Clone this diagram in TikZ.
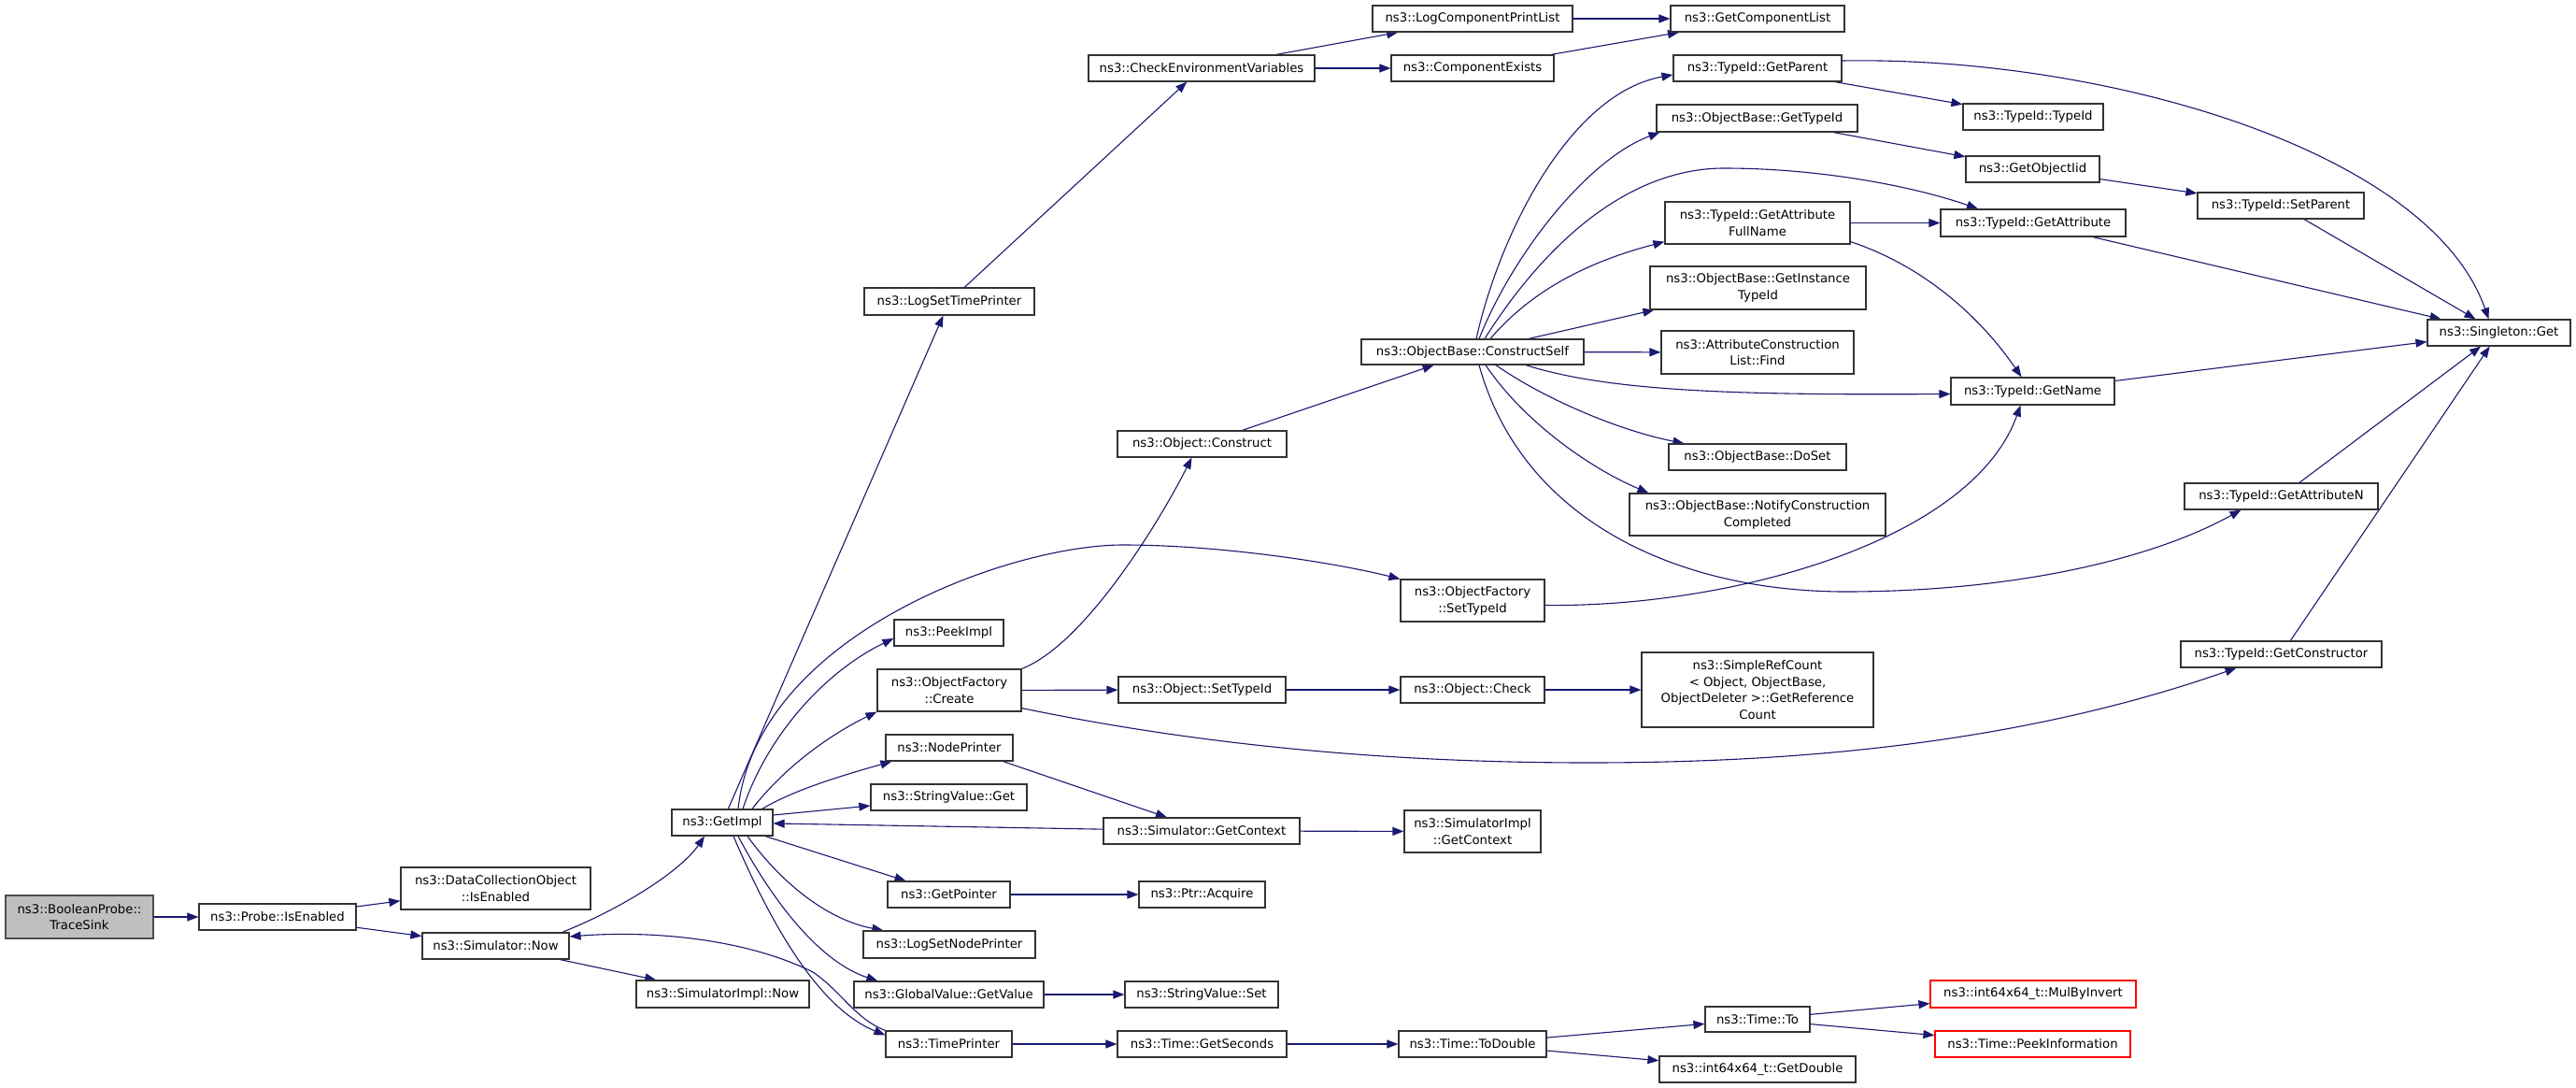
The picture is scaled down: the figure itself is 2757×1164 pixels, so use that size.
\documentclass[tikz,border=0pt]{standalone}
\usepackage{fontspec}
\setmainfont{DejaVu Sans}
\usetikzlibrary{arrows.meta, backgrounds}
\definecolor{edgeblue}{HTML}{191970}
\definecolor{rootgray}{HTML}{BFBFBF}

\begin{document}
\begin{tikzpicture}[% styles used in the call graph
         x = 1pt, y = -1pt,
         > = {Triangle[length=12pt, width=9pt]},
fn/.style args = {#1/#2}{draw=black!80, line width=1.2pt, fill=white,
              minimum width=#1pt, minimum height=#2pt,
              inner sep=1pt, align=center,
              font={\fontsize{13.25}{17.7}\selectfont}},
root/.style = {fill=rootgray, draw=black!70},
trunc/.style = {draw=red},
call/.style = {draw=edgeblue, line width=1.1pt, ->}
                        ]
	% caller side
	\node[fn=158/46, root] (sink) at (85,981) {ns3::BooleanProbe::\\TraceSink};
	\node[fn=168/28] (probe)   at (297,981)    {ns3::Probe::IsEnabled};
	\node[fn=203/45] (dco)     at (530.5,950.5) {ns3::DataCollectionObject\\::IsEnabled};
	\node[fn=157/28] (simnow)  at (530.5,1012) {ns3::Simulator::Now};
	\node[fn=185/29] (implnow) at (773.5,1063.5) {ns3::SimulatorImpl::Now};
	\node[fn=108/28] (getimpl) at (773,880)    {ns3::GetImpl};
	% column of GetImpl callees
	\node[fn=182/29] (logtime)  at (1016,322.5)  {ns3::LogSetTimePrinter};
	\node[fn=117/28] (peekimpl) at (1015.5,677)  {ns3::PeekImpl};
	\node[fn=154/45] (create)   at (1016,738.5)  {ns3::ObjectFactory\\::Create};
	\node[fn=136/28] (nodeprn)  at (1016,800)    {ns3::NodePrinter};
	\node[fn=167/28] (svget)    at (1015.5,853)  {ns3::StringValue::Get};
	\node[fn=131/28] (getptr)   at (1015.5,957)  {ns3::GetPointer};
	\node[fn=184/29] (lognode)  at (1016,1010.5) {ns3::LogSetNodePrinter};
	\node[fn=203/28] (gvget)    at (1015.5,1064) {ns3::GlobalValue::GetValue};
	\node[fn=135/28] (timeprn)  at (1015.5,1117) {ns3::TimePrinter};
	% next column
	\node[fn=242/28] (checkenv)  at (1286,73)    {ns3::CheckEnvironmentVariables};
	\node[fn=181/28] (construct) at (1286.5,475) {ns3::Object::Construct};
	\node[fn=179/28] (settid)    at (1286.5,738) {ns3::Object::SetTypeId};
	\node[fn=210/28] (simctx)    at (1286,889)   {ns3::Simulator::GetContext};
	\node[fn=135/28] (acquire)   at (1286.5,957) {ns3::Ptr::Acquire};
	\node[fn=164/28] (svset)     at (1286,1064)  {ns3::StringValue::Set};
	\node[fn=181/28] (getsec)    at (1286.5,1117) {ns3::Time::GetSeconds};
	% next column
	\node[fn=214/28] (logprint)  at (1576,20)    {ns3::LogComponentPrintList};
	\node[fn=174/28] (compexist) at (1576,73)    {ns3::ComponentExists};
	\node[fn=238/27] (cself)     at (1576,376.5) {ns3::ObjectBase::ConstructSelf};
	\node[fn=154/45] (ofsettid)  at (1576,642.5) {ns3::ObjectFactory\\::SetTypeId};
	\node[fn=154/28] (check)     at (1576,738)   {ns3::Object::Check};
	\node[fn=146/45] (implctx)   at (1576,889.5) {ns3::SimulatorImpl\\::GetContext};
	\node[fn=158/28] (todouble)  at (1576,1117)  {ns3::Time::ToDouble};
	% next column
	\node[fn=186/28] (complist)  at (1881,20)    {ns3::GetComponentList};
	\node[fn=180/28] (getparent) at (1881,73)    {ns3::TypeId::GetParent};
	\node[fn=215/29] (gettid)    at (1880.5,126.5) {ns3::ObjectBase::GetTypeId};
	\node[fn=198/45] (attrfull)  at (1881,238.5) {ns3::TypeId::GetAttribute\\FullName};
	\node[fn=231/46] (insttid)   at (1881.5,308) {ns3::ObjectBase::GetInstance\\TypeId};
	\node[fn=206/46] (attrfind)  at (1881,377)   {ns3::AttributeConstruction\\List::Find};
	\node[fn=190/28] (doset)     at (1881,489)   {ns3::ObjectBase::DoSet};
	\node[fn=274/45] (notify)    at (1881,550.5) {ns3::ObjectBase::NotifyConstruction\\Completed};
	\node[fn=248/80] (refcount)  at (1881,738)   {ns3::SimpleRefCount\\< Object, ObjectBase,\\ObjectDeleter >::GetReference\\Count};
	\node[fn=112/27] (timeto)    at (1881,1090.5) {ns3::Time::To};
	\node[fn=210/28] (getdouble) at (1881,1144)  {ns3::int64x64\_t::GetDouble};
	% next column
	\node[fn=150/28] (tidtid)   at (2176,125)    {ns3::TypeId::TypeId};
	\node[fn=143/28] (iid)      at (2175.5,181)  {ns3::GetObjectIid};
	\node[fn=198/29] (getattr)  at (2176,238.5)  {ns3::TypeId::GetAttribute};
	\node[fn=175/29] (getname)  at (2175.5,418.5) {ns3::TypeId::GetName};
	\node[fn=220/29, trunc] (mulinv)   at (2176,1063.5) {ns3::int64x64\_t::MulByInvert};
	\node[fn=209/28, trunc] (peekinfo) at (2175.5,1117) {ns3::Time::PeekInformation};
	% last columns
	\node[fn=178/28] (setparent) at (2441,220)   {ns3::TypeId::SetParent};
	\node[fn=207/28] (attrn)     at (2441.5,531) {ns3::TypeId::GetAttributeN};
	\node[fn=215/28] (getctor)   at (2441.5,700) {ns3::TypeId::GetConstructor};
	\node[fn=153/28] (singleton) at (2674.5,356) {ns3::Singleton::Get};

	\begin{scope}[on background layer]
	\fill[white] (0,0) rectangle (2757,1164);
	% probe and simulator
	\draw[call] (sink) -- (probe);
	\draw[call] (probe) -- (dco);
	\draw[call] (probe) -- (simnow);
	\draw[call] (simnow) -- (implnow);
	\draw[call] ([xshift=-8pt]simnow.north east) .. controls (670,970) and (730,930) .. ([xshift=-19pt]getimpl.south);
	\draw[call] (getimpl) -- (logtime);
	\draw[call] (logtime) -- (checkenv);
	\draw[call] (checkenv) -- (logprint);
	\draw[call] (checkenv) -- (compexist);
	\draw[call] (logprint) -- (complist);
	\draw[call] (compexist) -- (complist);
	% GetImpl fan
	\draw[call] ([xshift=17pt]getimpl.north) .. controls (810,680) and (1080,583) .. (1202,583)
	            .. controls (1300,583) and (1420,600) .. (ofsettid.north west);
	\draw[call] ([xshift=22pt]getimpl.north) .. controls (820,790) and (880,720) .. ([yshift=-6pt]peekimpl.west);
	\draw[call] ([xshift=32pt]getimpl.north) .. controls (840,820) and (890,785) .. (create.south west);
	\draw[call] ([xshift=-12pt]getimpl.north east) .. controls (850,845) and (900,830) .. ([xshift=7pt]nodeprn.south west);
	\draw[call] ([yshift=8pt]getimpl.east) -- ([yshift=-9pt]svget.west);
	\draw[call] (simctx) -- (getimpl);
	\draw[call] ([xshift=-11pt]nodeprn.south east) -- ([xshift=-37pt]simctx.north);
	\draw[call] (simctx) -- (implctx);
	\draw[call] (getimpl) -- (getptr);
	\draw[call] ([xshift=27pt]getimpl.south) .. controls (840,950) and (890,985) .. ([xshift=22pt]lognode.north west);
	\draw[call] ([xshift=17pt]getimpl.south) .. controls (830,970) and (880,1030) .. ([xshift=26pt]gvget.north west);
	\draw[call] ([xshift=12pt]getimpl.south) .. controls (830,1000) and (880,1080) .. ([yshift=-5pt]timeprn.north west);
	\draw[call] (gvget) -- (svset);
	\draw[call] (getptr) -- (acquire);
	\draw[call] (timeprn) -- (getsec);
	\draw[call] (getsec) -- (todouble);
	\draw[call] (todouble) -- (timeto);
	\draw[call] (todouble) -- (getdouble);
	\draw[call] (timeto) -- (mulinv);
	\draw[call] (timeto) -- (peekinfo);
	\draw[call] (timeprn.north west) .. controls (915,1090) and (900,1060) .. (870,1040)
	            .. controls (800,1005) and (700,995) .. ([yshift=10pt]simnow.east);
	% object factory
	\draw[call] (create.north east) .. controls (1160,690) and (1240,560) .. ([xshift=-11pt]construct.south);
	\draw[call] (create) -- (settid);
	\draw[call] ([yshift=4pt]create.south east) .. controls (1250,790) and (1450,816) .. (1700,816)
	            .. controls (1900,816) and (2150,800) .. ([xshift=-48pt]getctor.south);
	\draw[call] (settid) -- (check);
	\draw[call] (check) -- (refcount);
	\draw[call] (construct) -- (cself);
	% ConstructSelf fan
	\draw[call] ([xshift=4pt]cself.north) .. controls (1605,250) and (1680,100) .. ([yshift=-7pt]getparent.west);
	\draw[call] ([xshift=7pt]cself.north) .. controls (1620,270) and (1700,170) .. ([xshift=4pt]gettid.south west);
	\draw[call] ([xshift=13pt]cself.north) .. controls (1660,250) and (1750,180) .. (1845,180)
	            .. controls (1950,180) and (2050,200) .. ([xshift=-59pt]getattr.north);
	\draw[call] ([xshift=19pt]cself.north) .. controls (1640,310) and (1700,280) .. ([yshift=3pt]attrfull.south west);
	\draw[call] ([xshift=60pt]cself.north) -- ([xshift=5pt]insttid.south west);
	\draw[call] (cself) -- (attrfind);
	\draw[call] ([xshift=57pt]cself.south) .. controls (1720,418) and (1850,423) .. ([yshift=-3pt]getname.west);
	\draw[call] ([xshift=25pt]cself.south) .. controls (1650,425) and (1730,460) .. ([xshift=17pt]doset.north west);
	\draw[call] ([xshift=14pt]cself.south) .. controls (1630,450) and (1700,500) .. ([xshift=21pt]notify.north west);
	\draw[call] ([xshift=7pt]cself.south) .. controls (1630,560) and (1800,633) .. (1975,633)
	            .. controls (2150,633) and (2300,600) .. ([xshift=-43pt]attrn.south);
	% TypeId calls
	\draw[call] (getparent) -- (tidtid);
	\draw[call] ([yshift=8pt]getparent.east) .. controls (2250,60) and (2600,160) .. ([xshift=-11pt]singleton.north);
	\draw[call] (gettid) -- (iid);
	\draw[call] (iid) -- (setparent);
	\draw[call] (setparent) -- (singleton);
	\draw[call] (attrfull) -- (getattr);
	\draw[call] ([yshift=3pt]attrfull.south east) .. controls (2060,285) and (2120,340) .. ([xshift=-12pt]getname.north);
	\draw[call] (getattr) -- (singleton);
	\draw[call] (getname) -- (singleton);
	\draw[call] ([yshift=-5pt]ofsettid.east) .. controls (1850,650) and (2110,580) .. ([xshift=-13pt]getname.south);
	\draw[call] (attrn) -- (singleton);
	\draw[call] (getctor) -- (singleton);
	\end{scope}
\end{tikzpicture}
\end{document}
